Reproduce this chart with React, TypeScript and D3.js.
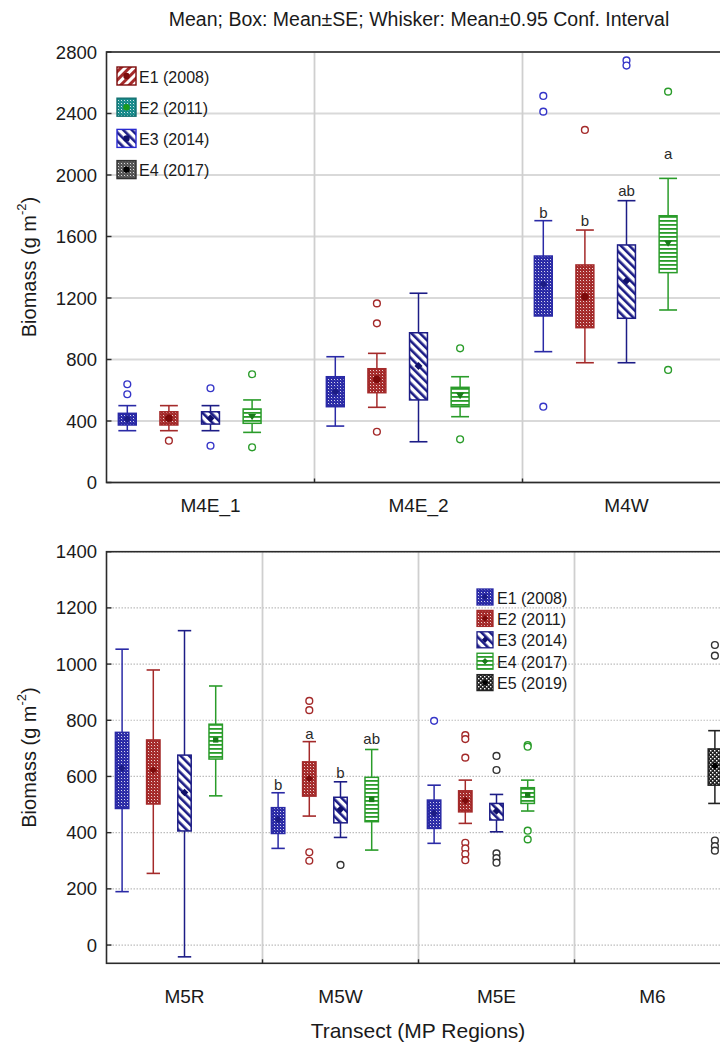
import React from "react";
import * as d3 from "d3";

const W = 720;
const H = 1042;
const FONT = "'Liberation Sans', Arial, Helvetica, sans-serif";

const titleText = "Mean; Box: Mean±SE; Whisker: Mean±0.95 Conf. Interval";
const xAxisTitle = "Transect (MP Regions)";

const topCategories = ["M4E_1", "M4E_2", "M4W"];
const bottomCategories = ["M5R", "M5W", "M5E", "M6"];
const topTicks = [0, 400, 800, 1200, 1600, 2000, 2400, 2800];
const bottomTicks = [0, 200, 400, 600, 800, 1000, 1200, 1400];
const slotKeys = ["E1", "E2", "E3", "E4", "E5"];

const topLegendLabels = ["E1 (2008)", "E2 (2011)", "E3 (2014)", "E4 (2017)"];
const bottomLegendLabels = ["E1 (2008)", "E2 (2011)", "E3 (2014)", "E4 (2017)", "E5 (2019)"];

// each row: [mean, boxLow (mean-SE), boxHigh (mean+SE), whiskerLow, whiskerHigh]
const topE1 = [[413, 374, 450, 337, 500], [591, 493, 688, 367, 818], [1289, 1083, 1473, 851, 1703]];
const topE2 = [[418, 374, 460, 337, 500], [671, 584, 740, 489, 840], [1208, 1007, 1415, 779, 1642]];
const topE3 = [[418, 380, 460, 337, 500], [758, 537, 974, 265, 1231], [1313, 1068, 1545, 779, 1833]];
const topE4 = [[428, 385, 478, 326, 537], [565, 493, 619, 428, 688], [1556, 1365, 1735, 1122, 1978]];

const topE1Out = [[639, 574], [], [2514, 2412, 493]];
const topE2Out = [[272], [1165, 1035, 330], [2293]];
const topE3Out = [[613, 239], [], [2745, 2712]];
const topE4Out = [[704, 229], [873, 281], [2542, 732]];

const topLetterCategory = "M4W";
const topLetterText = ["b", "b", "ab", "a"];
const topLetterValue = [1755, 1707, 1898, 2137];

const botE1 = [[629, 486, 757, 190, 1053], [447, 397, 489, 344, 542], [469, 415, 516, 362, 569], null];
const botE2 = [[623, 502, 730, 255, 979], [593, 530, 652, 459, 724], [514, 474, 549, 433, 587], null];
const botE3 = [[543, 406, 676, -42, 1119], [483, 435, 526, 383, 581], [477, 445, 504, 403, 536], null];
const botE4 = [[730, 662, 786, 531, 922], [518, 439, 597, 338, 696], [534, 504, 560, 477, 587], null];
const botE5 = [null, null, null, [637, 569, 698, 504, 763]];

const botE1Out = [[], [], [798], []];
const botE2Out = [[], [869, 836, 330, 300], [747, 733, 667, 364, 344, 324, 302], []];
const botE3Out = [[], [285], [673, 623, 326, 309, 293], []];
const botE4Out = [[], [], [712, 706, 407, 376], []];
const botE5Out = [[], [], [], [1068, 1030, 372, 352, 336]];

const botLetterCategory = "M5W";
const botLetterText = ["b", "a", "b", "ab"];
const botLetterValue = [573, 754, 613, 736];

const BLUE = "#2a2aa6";
const NAVY = "#1c1c86";
const RED = "#a42a2a";
const DRED = "#7c0a0a";
const GREEN = "#2a9c2a";
const DGREEN = "#1a7a1a";
const BLACK = "#222222";

type Style = { color: string; fill: string; mean: string; shape: string; outlier: string };

const topStyles: Style[] = [
  { color: BLUE, fill: "url(#dotsBlue)", mean: NAVY, shape: "diamond", outlier: "#3535c8" },
  { color: RED, fill: "url(#dotsRed)", mean: DRED, shape: "circle", outlier: RED },
  { color: NAVY, fill: "url(#diagBlue)", mean: "#10106a", shape: "diamond", outlier: "#3535c8" },
  { color: GREEN, fill: "url(#hGreen)", mean: DGREEN, shape: "triangle", outlier: GREEN },
];
const bottomStyles: Style[] = [
  { color: BLUE, fill: "url(#dotsBlue)", mean: NAVY, shape: "diamond", outlier: "#3535c8" },
  { color: RED, fill: "url(#dotsRed)", mean: DRED, shape: "diamond", outlier: RED },
  { color: NAVY, fill: "url(#diagBlue)", mean: "#10106a", shape: "diamond", outlier: "#333" },
  { color: GREEN, fill: "url(#hGreen)", mean: DGREEN, shape: "square", outlier: GREEN },
  { color: BLACK, fill: "url(#checkBlack)", mean: "#000", shape: "diamond", outlier: "#333" },
];

function Patterns() {
  const dots = (id: string, c: string) => (
    <pattern id={id} width={3} height={3} patternUnits="userSpaceOnUse">
      <rect width={3} height={3} fill={c} />
      <rect x={1} y={1} width={1} height={1} fill="#ffffff" opacity={0.8} />
      <rect x={2.5} y={2.5} width={0.5} height={0.5} fill="#ffffff" opacity={0.5} />
    </pattern>
  );
  return (
    <defs>
      {dots("dotsBlue", BLUE)}
      {dots("dotsRed", RED)}
      {dots("dotsTeal", "#178a8a")}
      {dots("dotsGray", "#555555")}
      <pattern id="diagBlue" width={6} height={6} patternUnits="userSpaceOnUse" patternTransform="rotate(-45)">
        <rect width={6} height={6} fill="#ffffff" />
        <rect width={2.6} height={6} fill={NAVY} />
      </pattern>
      <pattern id="diagRed" width={6} height={6} patternUnits="userSpaceOnUse" patternTransform="rotate(45)">
        <rect width={6} height={6} fill="#ffffff" />
        <rect width={3} height={6} fill={RED} />
      </pattern>
      <pattern id="hGreen" width={4} height={4} patternUnits="userSpaceOnUse">
        <rect width={4} height={4} fill="#ffffff" />
        <rect width={4} height={1.8} fill={GREEN} />
      </pattern>
      <pattern id="checkBlack" width={4} height={4} patternUnits="userSpaceOnUse">
        <rect width={4} height={4} fill={BLACK} />
        <rect x={0} y={0} width={1.4} height={1.4} fill="#ffffff" />
        <rect x={2} y={2} width={1.4} height={1.4} fill="#ffffff" />
      </pattern>
    </defs>
  );
}

function MeanMark({ x, y, shape, color, size }: { x: number; y: number; shape: string; color: string; size: number }) {
  if (shape === "circle") return <circle cx={x} cy={y} r={size * 0.95} fill={color} />;
  if (shape === "square") return <rect x={x - size * 0.7} y={y - size * 0.7} width={size * 1.4} height={size * 1.4} fill={color} />;
  if (shape === "triangle")
    return <path d={`M${x - size},${y - size * 0.7}L${x + size},${y - size * 0.7}L${x},${y + size * 0.9}Z`} fill={color} />;
  return <path d={`M${x},${y - size}L${x + size},${y}L${x},${y + size}L${x - size},${y}Z`} fill={color} />;
}

type PanelProps = {
  categories: string[];
  series: (number[] | null)[][];
  outliers: number[][][];
  styles: Style[];
  nSlots: number;
  domain: [number, number];
  top: number;
  bottom: number;
  ticks: number[];
  dottedGrid: boolean;
  letterCategory: string;
  letterText: string[];
  letterValue: number[];
  labelY: number;
  titleCenterY: number;
};

const LEFT = 106.5;
const RIGHT = 730.5;

function Panel(p: PanelProps) {
  const y = d3.scaleLinear().domain(p.domain).range([p.bottom, p.top]);
  const x = d3.scaleBand<string>().domain(p.categories).range([LEFT, RIGHT]).padding(0);
  const slot = d3.scaleBand<string>().domain(slotKeys.slice(0, 5)).range([0, x.bandwidth()]).padding(0);
  const bw = slot.bandwidth() * 0.43;
  const cap = bw * 0.5;
  const ms = p.nSlots === 5 ? 3.8 : 4;
  const r = 3.4;
  return (
    <g>
      {p.ticks.map((t) => (
        <line
          key={"g" + t}
          x1={LEFT}
          x2={RIGHT}
          y1={y(t)}
          y2={y(t)}
          stroke={p.dottedGrid ? "#bdbdbd" : "#d9d9d9"}
          strokeWidth={p.dottedGrid ? 1.2 : 1.8}
          strokeDasharray={p.dottedGrid ? "1.5,1.5" : undefined}
        />
      ))}
      {p.categories.slice(1).map((c) => (
        <line key={"v" + c} x1={x(c)!} x2={x(c)!} y1={p.top} y2={p.bottom} stroke="#cfcfcf" strokeWidth={1.8} />
      ))}
      <rect x={LEFT} y={p.top} width={RIGHT - LEFT} height={p.bottom - p.top} fill="none" stroke="#2b2b2b" strokeWidth={1.6} />
      {p.ticks.map((t) => (
        <g key={"t" + t}>
          <line x1={LEFT} x2={LEFT + 5} y1={y(t)} y2={y(t)} stroke="#2b2b2b" strokeWidth={1.4} />
          <text x={97} y={y(t)} textAnchor="end" dominantBaseline="central" fontSize={18.5} fontFamily={FONT} fill="#1a1a1a">
            {t}
          </text>
        </g>
      ))}
      {p.categories.slice(1).map((c) => (
        <line key={"bt" + c} x1={x(c)!} x2={x(c)!} y1={p.bottom} y2={p.bottom - 4} stroke="#2b2b2b" strokeWidth={1.4} />
      ))}
      {p.categories.map((c) => (
        <text
          key={"cl" + c}
          x={x(c)! + x.bandwidth() / 2}
          y={p.labelY}
          textAnchor="middle"
          dominantBaseline="central"
          fontSize={19}
          fontFamily={FONT}
          fill="#1a1a1a"
        >
          {c}
        </text>
      ))}
      <text
        transform={`translate(29,${p.titleCenterY}) rotate(-90)`}
        textAnchor="middle"
        dominantBaseline="central"
        fontSize={20}
        fontFamily={FONT}
        fill="#1a1a1a"
      >
        Biomass (g m
        <tspan dy={-8} fontSize={13}>
          -2
        </tspan>
        <tspan dy={8}>)</tspan>
      </text>
      {p.series.map((rows, si) =>
        rows.map((st, ci) => {
          const cx = x(p.categories[ci])! + slot(slotKeys[si])! + slot.bandwidth() / 2;
          const s = p.styles[si];
          const outs = p.outliers[si][ci] || [];
          return (
            <g key={`b${si}-${ci}`}>
              {st && (
                <g>
                  <line x1={cx} x2={cx} y1={y(st[4])} y2={y(st[2])} stroke={s.color} strokeWidth={1.5} />
                  <line x1={cx} x2={cx} y1={y(st[1])} y2={y(st[3])} stroke={s.color} strokeWidth={1.5} />
                  <line x1={cx - cap} x2={cx + cap} y1={y(st[4])} y2={y(st[4])} stroke={s.color} strokeWidth={1.6} />
                  <line x1={cx - cap} x2={cx + cap} y1={y(st[3])} y2={y(st[3])} stroke={s.color} strokeWidth={1.6} />
                  <rect
                    x={cx - bw / 2}
                    y={y(st[2])}
                    width={bw}
                    height={y(st[1]) - y(st[2])}
                    fill={s.fill}
                    stroke={s.color}
                    strokeWidth={1.5}
                  />
                  <MeanMark x={cx} y={y(st[0])} shape={s.shape} color={s.mean} size={ms} />
                </g>
              )}
              {outs.map((v, k) => (
                <circle key={k} cx={cx} cy={y(v)} r={r} fill="#ffffff" stroke={s.outlier} strokeWidth={1.4} />
              ))}
            </g>
          );
        })
      )}
      {p.letterText.map((t, si) => {
        const cx = x(p.letterCategory)! + slot(slotKeys[si])! + slot.bandwidth() / 2;
        return (
          <text
            key={"l" + si}
            x={cx}
            y={y(p.letterValue[si])}
            textAnchor="middle"
            dominantBaseline="central"
            fontSize={15}
            fontFamily={FONT}
            fill="#2a2a2a"
          >
            {t}
          </text>
        );
      })}
    </g>
  );
}

function TopLegend() {
  const fills = ["url(#diagRed)", "url(#dotsTeal)", "url(#diagBlue)", "url(#dotsGray)"];
  const strokes = [DRED, "#137070", "#2a2ad0", "#333"];
  const dots = [DRED, "#1a9a1a", "#10106a", "#000"];
  return (
    <g>
      {topLegendLabels.map((l, i) => {
        const cy = 76 + i * 31.2;
        return (
          <g key={l}>
            <rect x={117} y={cy - 9} width={19} height={18} fill={fills[i]} stroke={strokes[i]} strokeWidth={1.4} />
            <circle cx={126.5} cy={cy} r={3.2} fill={dots[i]} />
            <text x={139} y={cy + 1} dominantBaseline="central" fontSize={16} fontFamily={FONT} fill="#1a1a1a">
              {l}
            </text>
          </g>
        );
      })}
    </g>
  );
}

function BottomLegend() {
  return (
    <g>
      {bottomLegendLabels.map((l, i) => {
        const cy = 597 + i * 21.4;
        const s = bottomStyles[i];
        return (
          <g key={l}>
            <rect x={477} y={cy - 8} width={16} height={16} fill={s.fill} stroke={s.color} strokeWidth={1.3} />
            <MeanMark x={485} y={cy} shape="diamond" color={s.mean} size={3.2} />
            <text x={497} y={cy + 1} dominantBaseline="central" fontSize={16} fontFamily={FONT} fill="#1a1a1a">
              {l}
            </text>
          </g>
        );
      })}
    </g>
  );
}

export default function App() {
  return (
    <svg
      width={W}
      height={H}
      viewBox={`0 0 ${W} ${H}`}
      style={{ position: "absolute", left: 0, top: 0, display: "block", background: "#ffffff" }}
    >
      <Patterns />
      <rect width={W} height={H} fill="#ffffff" />
      <text x={419} y={19} textAnchor="middle" dominantBaseline="central" fontSize={19.5} fontFamily={FONT} fill="#1a1a1a">
        {titleText}
      </text>
      <Panel
        categories={topCategories}
        series={[topE1, topE2, topE3, topE4]}
        outliers={[topE1Out, topE2Out, topE3Out, topE4Out]}
        styles={topStyles}
        nSlots={4}
        domain={[0, 2800]}
        top={52}
        bottom={482.5}
        ticks={topTicks}
        dottedGrid={false}
        letterCategory={topLetterCategory}
        letterText={topLetterText}
        letterValue={topLetterValue}
        labelY={505}
        titleCenterY={267}
      />
      <TopLegend />
      <Panel
        categories={bottomCategories}
        series={[botE1, botE2, botE3, botE4, botE5]}
        outliers={[botE1Out, botE2Out, botE3Out, botE4Out, botE5Out]}
        styles={bottomStyles}
        nSlots={5}
        domain={[-65, 1400]}
        top={551.7}
        bottom={963.3}
        ticks={bottomTicks}
        dottedGrid={true}
        letterCategory={botLetterCategory}
        letterText={botLetterText}
        letterValue={botLetterValue}
        labelY={996}
        titleCenterY={757.5}
      />
      <BottomLegend />
      <text x={418} y={1030} textAnchor="middle" dominantBaseline="central" fontSize={21} fontFamily={FONT} fill="#1a1a1a">
        {xAxisTitle}
      </text>
    </svg>
  );
}
